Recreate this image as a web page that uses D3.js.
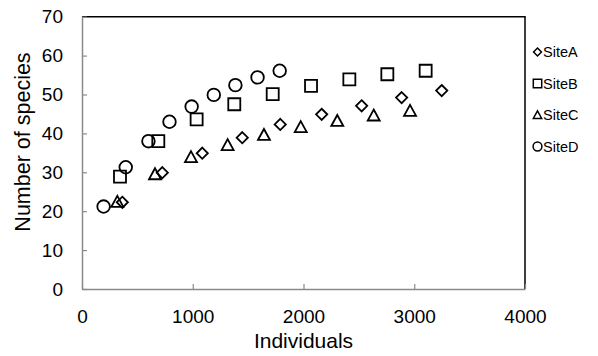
<!DOCTYPE html>
<html>
<head>
<meta charset="utf-8">
<script src="https://cdn.jsdelivr.net/npm/d3@7"></script>
<style>
  html, body { margin: 0; padding: 0; background: #fff; }
  svg { display: block; font-family: "Liberation Sans", Arial, sans-serif; }
</style>
</head>
<body>
<svg id="chart" width="598" height="356"></svg>
<script>
// Species accumulation per site: individuals sampled vs. species found
const seriesNames = ["SiteA", "SiteB", "SiteC", "SiteD"];
const siteAIndividuals = [364, 725, 1086, 1447, 1790, 2164, 2525, 2886, 3248];
const siteASpecies     = [22.3, 29.9, 34.9, 38.9, 42.3, 44.9, 47.1, 49.2, 51.0];
const siteBIndividuals = [343, 689, 1035, 1375, 1722, 2068, 2414, 2757, 3103];
const siteBSpecies     = [28.9, 38.0, 43.6, 47.5, 50.1, 52.2, 53.9, 55.2, 56.1];
const siteCIndividuals = [319, 659, 984, 1315, 1643, 1975, 2305, 2634, 2962];
const siteCSpecies     = [22.4, 29.5, 33.9, 37.0, 39.6, 41.6, 43.2, 44.6, 45.8];
const siteDIndividuals = [195, 395, 600, 790, 990, 1190, 1385, 1585, 1785];
const siteDSpecies     = [21.2, 31.3, 38.0, 43.0, 46.9, 49.9, 52.4, 54.4, 56.1];
const xTickValues = [0, 1000, 2000, 3000, 4000];
const yTickValues = [0, 10, 20, 30, 40, 50, 60, 70];

const series = [
  { name: seriesNames[0], shape: "diamond",  xs: siteAIndividuals, ys: siteASpecies },
  { name: seriesNames[1], shape: "square",   xs: siteBIndividuals, ys: siteBSpecies },
  { name: seriesNames[2], shape: "triangle", xs: siteCIndividuals, ys: siteCSpecies },
  { name: seriesNames[3], shape: "circle",   xs: siteDIndividuals, ys: siteDSpecies }
];

const svg = d3.select("#chart");
const plot = { left: 82, right: 525, top: 16.7, bottom: 289 };
const axisGrey = "#8a8a8a";

const x = d3.scaleLinear().domain([0, 4000]).range([plot.left, plot.right]);
const y = d3.scaleLinear().domain([0, 70]).range([plot.bottom, plot.top]);

// Marker outlines, centred on the origin; s scales the shape
function markerPath(shape, s) {
  const p = d3.path();
  if (shape === "diamond") {
    const r = 5.6 * s;
    p.moveTo(0, -r); p.lineTo(r, 0); p.lineTo(0, r); p.lineTo(-r, 0); p.closePath();
  } else if (shape === "square") {
    const h = 6 * s;
    p.rect(-h, -h, 2 * h, 2 * h);
  } else if (shape === "triangle") {
    const w = 6 * s, t = 5.5 * s;
    p.moveTo(0, -t - 0.5 * s); p.lineTo(w, t - 0.5 * s); p.lineTo(-w, t - 0.5 * s); p.closePath();
  } else {
    const r = 6.3 * s;
    p.moveTo(r, 0); p.arc(0, 0, r, 0, 2 * Math.PI);
  }
  return p.toString();
}

// Plot-area frame (top and right edges)
svg.append("path")
  .attr("d", `M${plot.left},${plot.top}H${plot.right}V${plot.bottom}`)
  .attr("fill", "none").attr("stroke", "#000").attr("stroke-width", 1.5);

// Axes with inward ticks
const xAxis = d3.axisBottom(x).tickValues(xTickValues).tickFormat(d3.format("d"))
  .tickSizeInner(-5).tickSizeOuter(0).tickPadding(20.5);
const yAxis = d3.axisLeft(y).tickValues(yTickValues).tickFormat(d3.format("d"))
  .tickSizeInner(-5).tickSizeOuter(0).tickPadding(19);

const gx = svg.append("g").attr("transform", `translate(0,${plot.bottom})`).call(xAxis);
const gy = svg.append("g").attr("transform", `translate(${plot.left},0)`).call(yAxis);
[gx, gy].forEach(g => {
  g.select(".domain").attr("stroke", axisGrey).attr("stroke-width", 1.5);
  g.selectAll(".tick line").attr("stroke", axisGrey).attr("stroke-width", 1.2);
  g.selectAll(".tick text").attr("fill", "#000")
    .style("font-family", "'Liberation Sans', Arial, sans-serif").style("font-size", "19px");
});

// Axis titles
svg.append("text")
  .attr("x", (plot.left + plot.right) / 2).attr("y", 348)
  .attr("text-anchor", "middle").style("font-size", "21px").attr("fill", "#000")
  .text("Individuals");
svg.append("text")
  .attr("transform", "translate(30,142) rotate(-90)")
  .attr("text-anchor", "middle").style("font-size", "21.5px").attr("fill", "#000")
  .text("Number of species");

// Data markers, one group per site
series.forEach(s => {
  svg.append("g").selectAll("path")
    .data(s.xs.map((v, i) => ({ xv: v, yv: s.ys[i] })))
    .join("path")
    .attr("d", markerPath(s.shape, 1))
    .attr("transform", d => `translate(${x(d.xv)},${y(d.yv)})`)
    .attr("fill", "none").attr("stroke", "#000").attr("stroke-width", 1.8);
});

// Legend
const legendRows = [52, 83.5, 115, 146.5];
const legend = svg.append("g");
series.forEach((s, i) => {
  const row = legend.append("g").attr("transform", `translate(537.5,${legendRows[i]})`);
  row.append("path").attr("d", markerPath(s.shape, 0.7))
    .attr("fill", "none").attr("stroke", "#000").attr("stroke-width", 1.5);
  row.append("text").attr("x", 5.5).attr("dy", "0.35em")
    .style("font-size", "14.5px").attr("fill", "#000").text(s.name);
});
</script>
</body>
</html>
